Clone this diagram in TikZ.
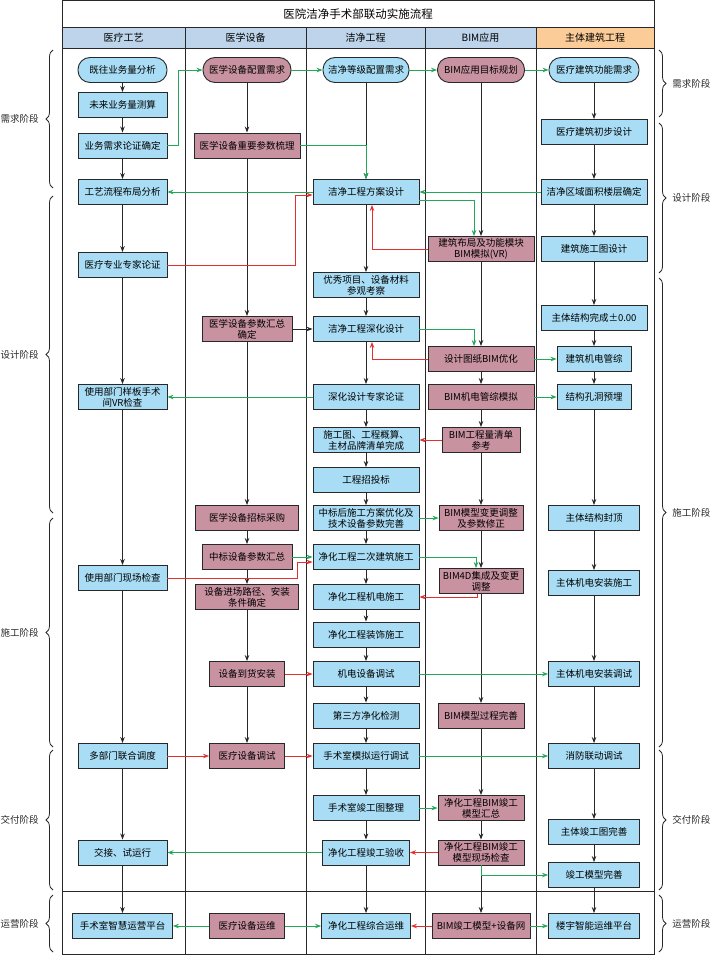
\documentclass[tikz,border=0pt]{standalone}
\usepackage{fontspec}
\setmainfont{Noto Sans CJK SC}
\usetikzlibrary{positioning,arrows.meta,decorations.pathreplacing}
\definecolor{BoxBlue}{RGB}{168,221,245}
\definecolor{BoxMauve}{RGB}{200,146,161}
\definecolor{HeadBlue}{RGB}{189,212,234}
\definecolor{HeadOrange}{RGB}{251,204,152}
\definecolor{LinkGreen}{RGB}{34,168,88}
\definecolor{LinkRed}{RGB}{226,48,48}
\definecolor{LineGray}{RGB}{40,40,40}

\begin{document}
\begin{tikzpicture}[
    x=1pt, y=-1pt,
    box/.style={rectangle, draw=LineGray, line width=0.9pt, fill=BoxBlue,
        minimum width=106pt, minimum height=25pt, inner sep=1pt, align=center,
        font=\fontsize{9.5}{11}\selectfont},
    bimbox/.style={box, fill=BoxMauve},
    startbox/.style={box, rounded corners=12pt},
    bimstart/.style={startbox, fill=BoxMauve},
    head/.style={rectangle, draw=LineGray, line width=0.9pt, fill=HeadBlue,
        minimum height=21pt, font=\fontsize{10}{12}\selectfont},
    flow/.style={-{Stealth[length=6pt,width=4.5pt]}, line width=0.8pt, LineGray},
    gflow/.style={flow, LinkGreen},
    rflow/.style={flow, LinkRed},
    brace/.style={decorate, decoration={brace, amplitude=7pt}, line width=0.8pt, LineGray},
    phase/.style={inner sep=1pt, font=\fontsize{9.5}{11}\selectfont},
]
\useasboundingbox (0,0) rectangle (714,955);

% frame, title and lanes
\node[draw=LineGray, line width=0.9pt, minimum width=592pt, minimum height=27pt,
    font=\fontsize{11.5}{13}\selectfont] (title) at (358,14) {医院洁净手术部联动实施流程};
\node[head, minimum width=123pt] (hmed) at (123.5,38) {医疗工艺};
\node[head, minimum width=121pt] (hequ) at (245.5,38) {医学设备};
\node[head, minimum width=119pt] (hcln) at (365.5,38) {洁净工程};
\node[head, minimum width=111pt] (hbim) at (480.5,38) {BIM应用};
\node[head, minimum width=118pt, fill=HeadOrange] (hbld) at (595,38) {主体建筑工程};
\draw[line width=0.9pt, LineGray] (62,48.5) rectangle (654,954);
\foreach \x in {185,306,425,536}
    \draw[line width=0.9pt, LineGray] (\x,48.5) -- (\x,954);
\draw[line width=0.9pt, LineGray] (62,891.5) -- (654,891.5);

% phases
\draw[brace] (53,188) -- (53,50) node[phase, midway, left=13pt] (pl1) {需求阶段};
\draw[brace] (53,513) -- (53,196) node[phase, midway, left=13pt] (pl2) {设计阶段};
\draw[brace] (53,747) -- (53,518) node[phase, midway, left=13pt] (pl3) {施工阶段};
\draw[brace] (53,890) -- (53,750) node[phase, midway, left=13pt] (pl4) {交付阶段};
\draw[brace] (53,952) -- (53,895) node[phase, midway, left=13pt] (pl5) {运营阶段};
\draw[brace] (659,50) -- (659,117) node[phase, midway, right=12pt] (pr1) {需求阶段};
\draw[brace] (659,123) -- (659,273) node[phase, midway, right=12pt] (pr2) {设计阶段};
\draw[brace] (659,278) -- (659,747) node[phase, midway, right=12pt] (pr3) {施工阶段};
\draw[brace] (659,750) -- (659,890) node[phase, midway, right=12pt] (pr4) {交付阶段};
\draw[brace] (659,895) -- (659,952) node[phase, midway, right=12pt] (pr5) {运营阶段};

% 医疗工艺
\node[startbox, minimum width=89pt] (med1) at (122.5,70) {既往业务量分析};
\node[box, minimum width=89pt] (med2) at (122.5,105) {未来业务量测算};
\node[box, minimum width=89pt] (med3) at (122.5,145.5) {业务需求论证确定};
\node[box, minimum width=89pt] (med4) at (122.5,192) {工艺流程布局分析};
\node[box, minimum width=89pt] (med5) at (122.5,265) {医疗专业专家论证};
\node[box, minimum width=89pt] (med6) at (122.5,397) {使用部门样板手术\\间VR检查};
\node[box, minimum width=89pt] (med7) at (122.5,578) {使用部门现场检查};
\node[box, minimum width=89pt] (med8) at (122.5,756) {多部门联合调度};
\node[box, minimum width=89pt] (med9) at (122.5,852.5) {交接、试运行};
\node[box, minimum width=100pt] (med10) at (122.5,926) {手术室智慧运营平台};

% 医学设备
\node[bimstart, minimum width=88pt] (equ1) at (247,70) {医学设备配置需求};
\node[bimbox] (equ2) at (247,145.5) {医学设备重要参数梳理};
\node[bimbox, minimum width=90pt] (equ3) at (247,329) {医学设备参数汇总\\确定};
\node[bimbox, minimum width=103pt] (equ4) at (247,518) {医学设备招标采购};
\node[bimbox, minimum width=90pt] (equ5) at (247,557) {中标设备参数汇总};
\node[bimbox, minimum width=103pt] (equ6) at (247,597) {设备进场路径、安装\\条件确定};
\node[bimbox, minimum width=75pt] (equ7) at (247,674) {设备到货安装};
\node[bimbox, minimum width=75pt] (equ8) at (247,756) {医疗设备调试};
\node[bimbox, minimum width=75pt] (equ9) at (247,926) {医疗设备运维};

% 洁净工程
\node[startbox, minimum width=86pt] (cln1) at (366,70) {洁净等级配置需求};
\node[box] (cln2) at (366,192) {洁净工程方案设计};
\node[box] (cln3) at (366,285) {优秀项目、设备材料\\参观考察};
\node[box] (cln4) at (366,329) {洁净工程深化设计};
\node[box] (cln5) at (366,397) {深化设计专家论证};
\node[box] (cln6) at (366,440) {施工图、工程概算、\\主材品牌清单完成};
\node[box] (cln7) at (366,480) {工程招投标};
\node[box] (cln8) at (366,518) {中标后施工方案优化及\\技术设备参数完善};
\node[box] (cln9) at (366,557) {净化工程二次建筑施工};
\node[box] (cln10) at (366,597) {净化工程机电施工};
\node[box] (cln11) at (366,634.5) {净化工程装饰施工};
\node[box] (cln12) at (366,674) {机电设备调试};
\node[box] (cln13) at (366,715.5) {第三方净化检测};
\node[box] (cln14) at (366,756) {手术室模拟运行调试};
\node[box] (cln15) at (366,808) {手术室竣工图整理};
\node[box, minimum width=87pt] (cln16) at (366,852.5) {净化工程竣工验收};
\node[box, minimum width=89pt] (cln17) at (366,926) {净化工程综合运维};

% BIM应用
\node[bimstart, minimum width=87pt] (bim1) at (481,70) {BIM应用目标规划};
\node[bimbox] (bim2) at (481,249) {建筑布局及功能模块\\BIM模拟(VR)};
\node[bimbox] (bim3) at (481,359) {设计图纸BIM优化};
\node[bimbox] (bim4) at (481,397) {BIM机电管综模拟};
\node[bimbox, minimum width=78pt] (bim5) at (481,440) {BIM工程量清单\\参考};
\node[bimbox, minimum width=84pt] (bim6) at (481,518) {BIM模型变更调整\\及参数修正};
\node[bimbox, minimum width=84pt] (bim7) at (481,581) {BIM4D集成及变更\\调整};
\node[bimbox, minimum width=86pt] (bim8) at (481,716) {BIM模型过程完善};
\node[bimbox, minimum width=86pt] (bim9) at (481,808) {净化工程BIM竣工\\模型汇总};
\node[bimbox, minimum width=86pt] (bim10) at (481,852.5) {净化工程BIM竣工\\模型现场检查};
\node[bimbox, minimum width=98pt] (bim11) at (481,926) {BIM竣工模型+设备网};

% 主体建筑工程
\node[startbox, minimum width=90pt] (bld1) at (594,70) {医疗建筑功能需求};
\node[box] (bld2) at (594,132) {医疗建筑初步设计};
\node[box] (bld3) at (594,192) {洁净区域面积楼层确定};
\node[box] (bld4) at (594,249) {建筑施工图设计};
\node[box] (bld5) at (594,318) {主体结构完成±0.00};
\node[box, minimum width=74pt] (bld6) at (594,359) {建筑机电管综};
\node[box, minimum width=74pt] (bld7) at (594,397) {结构孔洞预埋};
\node[box, minimum width=91pt] (bld8) at (594,518) {主体结构封顶};
\node[box, minimum width=91pt] (bld9) at (594,583) {主体机电安装施工};
\node[box, minimum width=91pt] (bld10) at (594,674) {主体机电安装调试};
\node[box, minimum width=91pt] (bld11) at (594,756) {消防联动调试};
\node[box, minimum width=91pt] (bld12) at (594,832) {主体竣工图完善};
\node[box, minimum width=91pt] (bld13) at (594,875) {竣工模型完善};
\node[box, minimum width=91pt] (bld14) at (594,926) {楼宇智能运维平台};

% lane flows
\foreach \a/\b in {med1/med2, med2/med3, med3/med4, med4/med5, med5/med6, med6/med7,
    med7/med8, med8/med9, med9/med10,
    equ1/equ2, equ2/equ3, equ3/equ4, equ4/equ5, equ5/equ6, equ6/equ7, equ7/equ8,
    cln1/cln2, cln2/cln3, cln3/cln4, cln4/cln5, cln5/cln6, cln6/cln7, cln7/cln8, cln8/cln9,
    cln9/cln10, cln10/cln11, cln11/cln12, cln12/cln13, cln13/cln14, cln14/cln15,
    cln15/cln16, cln16/cln17,
    bim1/bim2, bim2/bim3, bim3/bim4, bim4/bim5, bim5/bim6, bim6/bim7, bim7/bim8,
    bim8/bim9, bim9/bim10, bim10/bim11,
    bld1/bld2, bld2/bld3, bld3/bld4, bld4/bld5, bld5/bld6, bld6/bld7, bld7/bld8,
    bld8/bld9, bld9/bld10, bld10/bld11, bld11/bld12, bld12/bld13, bld13/bld14}
    \draw[flow] (\a) -- (\b);
\draw[flow] (equ3) -- (cln4);

% green links
\draw[gflow] (med3.east) -- ++(11,0) |- (equ1.west);
\draw[gflow] (equ1) -- (cln1);
\draw[gflow] (cln1) -- (bim1);
\draw[gflow] (bim1) -- (bld1);
\draw[gflow] (equ2.east) -| (cln2.north);
\draw[gflow] (bld3) -- (cln2);
\draw[gflow] (cln2) -- (med4);
\draw[gflow] ([yshift=-8pt]cln2.east) -| ([xshift=-7pt]bim2.north);
\draw[gflow] (cln4.east) -| ([xshift=-7pt]bim3.north);
\draw[gflow] (bim3) -- (bld6);
\draw[gflow] (bim4) -- (bld7);
\draw[gflow] (cln5) -- (med6);
\draw[gflow] (cln8) -- (bim6);
\draw[gflow] (equ5) -- (cln9);
\draw[gflow] (cln9.east) -| ([xshift=-5pt]bim7.north);
\draw[gflow] (cln12) -- (bld10);
\draw[gflow] (cln14) -- (bld11);
\draw[gflow] (cln15) -- (bim9);
\draw[gflow] (cln16) -- (med9);
\draw[gflow] (bim10.south) |- (bld13.west);
\draw[gflow] (equ9) -- (med10);
\draw[gflow] (equ9) -- (cln17);
\draw[gflow] (bim11) -- (bld14);

% red links
\draw[rflow] (med5.east) -- ++(128,0) |- ([yshift=-3pt]cln2.west);
\draw[rflow] (bim2.west) -| ([xshift=6pt]cln2.south);
\draw[rflow] (bim3.west) -| ([xshift=6pt]cln4.south);
\draw[rflow] (bim5) -- (cln6);
\draw[rflow] (med7.east) -- ++(130,0) |- ([yshift=-5pt]cln9.west);
\draw[rflow] ([xshift=-4pt]bim7.south) |- (cln10.east);
\draw[rflow] (equ7) -- (cln12);
\draw[rflow] (med8) -- (equ8);
\draw[rflow] (equ8) -- (cln14);
\draw[rflow] (bim10) -- (cln16);
\draw[rflow] (bim11) -- (cln17);
\end{tikzpicture}
\end{document}
